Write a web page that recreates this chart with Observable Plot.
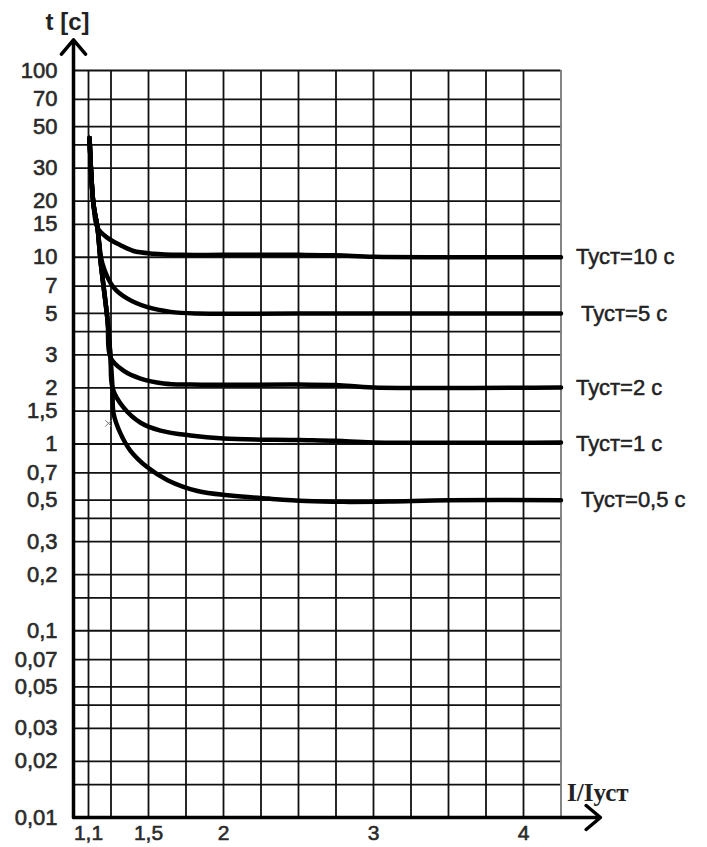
<!DOCTYPE html>
<html>
<head>
<meta charset="utf-8">
<script src="https://cdn.jsdelivr.net/npm/d3@7"></script>
<script src="https://cdn.jsdelivr.net/npm/@observablehq/plot@0.6"></script>
<style>
  html, body { margin: 0; padding: 0; background: #fff; }
  #chart svg { display: block; }
</style>
</head>
<body>
<div id="chart"></div>
<script>
// Grid and tick values
const xGrid = [1.1, 1.25, 1.5, 1.75, 2, 2.25, 2.5, 2.75, 3, 3.25, 3.5, 3.75, 4];
const xGridLast = [4.25];
const yGrid = [100, 70, 50, 40, 30, 20, 15, 10, 7, 5, 4, 3, 2, 1.5, 1, 0.7, 0.5, 0.4, 0.3, 0.2, 0.15,
               0.1, 0.07, 0.05, 0.04, 0.03, 0.02, 0.015];
const yTicks = [100, 70, 50, 30, 20, 15, 10, 7, 5, 3, 2, 1.5, 1, 0.7, 0.5, 0.3, 0.2,
                0.1, 0.07, 0.05, 0.03, 0.02, 0.01];
const xTicks = [1.1, 1.5, 2, 3, 4];

// Curve labels
const curveNames = ["Туст=10 с", "Туст=5 с", "Туст=2 с", "Туст=1 с", "Туст=0,5 с"];

// Curves
const x10 = [1.107, 1.133, 1.16, 1.227, 1.313, 1.4, 1.533, 1.713, 2.0, 2.5, 2.75, 3, 3.5, 4.25];
const y10 = [43.5, 19.3, 14.4, 12.7, 11.6, 10.8, 10.45, 10.3, 10.3, 10.3, 10.25, 10.05, 10, 10];

const x5 = [1.107, 1.133, 1.16, 1.193, 1.267, 1.36, 1.493, 1.647, 1.827, 2.5, 4.25];
const y5 = [43.5, 19.3, 14.4, 9.25, 6.9, 6.0, 5.4, 5.1, 5.0, 5.0, 5.0];

const x2 = [1.107, 1.133, 1.16, 1.18, 1.227, 1.247, 1.333, 1.447, 1.6, 1.78, 2.5, 2.75, 3, 4.25];
const y2 = [43.5, 19.3, 14.4, 9.6, 4.6, 2.9, 2.47, 2.24, 2.11, 2.08, 2.08, 2.07, 2.01, 2.01];

const x1 = [1.107, 1.133, 1.16, 1.18, 1.227, 1.247, 1.26, 1.333, 1.447, 1.58, 1.78, 2.0, 2.5, 2.75, 3, 4.25];
const y1 = [43.5, 19.3, 14.4, 9.6, 4.6, 2.9, 2.0, 1.57, 1.3, 1.18, 1.11, 1.07, 1.05, 1.04, 1.02, 1.02];

const x05 = [1.107, 1.133, 1.16, 1.18, 1.227, 1.247, 1.26, 1.267, 1.313, 1.38, 1.493, 1.627, 1.827, 2.047, 2.3, 2.55, 2.8, 3.1, 3.5, 4.25];
const y05 = [43.5, 19.3, 14.4, 9.6, 4.6, 2.9, 2.0, 1.46, 1.14, 0.92, 0.75, 0.64, 0.56, 0.53, 0.51, 0.495, 0.49, 0.492, 0.5, 0.5];

const curveX = [x10, x5, x2, x1, x05];
const curveY = [y10, y5, y2, y1, y05];
const labelY = [10, 5, 2, 1, 0.5];
const labelDx = [15, 20, 15, 15, 20];

const rows = curveNames.flatMap((name, i) => curveX[i].map((x, j) => ({name, x, y: curveY[i][j]})));

const fmt = v => String(v).replace(".", ",");

const X0 = 1, X1 = 4.25, XA = 4.513, Y0 = 0.01, Y1 = 100, YA = 146;

const labelMarks = curveNames.map((name, i) =>
  Plot.text([name], {x: X1, y: labelY[i], text: d => d, textAnchor: "start", dx: labelDx[i],
    fontSize: 22, fill: "#222", stroke: "#222", strokeWidth: 0.5}));

const chart = Plot.plot({
  width: 707,
  height: 847,
  marginLeft: 73,
  marginRight: 146.5,
  marginTop: 70,
  marginBottom: 30,
  x: {domain: [X0, X1], axis: null},
  y: {type: "log", domain: [Y0, Y1], axis: null},
  style: {fontFamily: "'Liberation Sans', Arial, sans-serif", background: "#fff", color: "#111"},
  marks: [
    Plot.ruleY(yGrid, {y: d => d, x1: X0, x2: X1, stroke: "#111", strokeWidth: 1.8}),
    Plot.ruleX(xGrid, {x: d => d, y1: Y0, y2: Y1, stroke: "#111", strokeWidth: 1.8}),
    Plot.ruleX(xGridLast, {x: d => d, y1: Y0, y2: Y1, stroke: "#777", strokeWidth: 1.8}),
    Plot.line(rows, {x: "x", y: "y", z: "name", stroke: "#000", strokeWidth: 4.5, curve: "catmull-rom"}),
    Plot.dot([{x: 1.233, y: 1.29}], {x: "x", y: "y", symbol: "times", r: 3, stroke: "#777", strokeWidth: 1}),
    Plot.arrow([{x1: X0, y1: Y0, x2: XA, y2: Y0}], {x1: "x1", y1: "y1", x2: "x2", y2: "y2", stroke: "#000", strokeWidth: 3.5, headLength: 8, headAngle: 80}),
    Plot.arrow([{x1: X0, y1: Y0, x2: X0, y2: YA}], {x1: "x1", y1: "y1", x2: "x2", y2: "y2", stroke: "#000", strokeWidth: 3.5, headLength: 8, headAngle: 80}),
    Plot.text(yTicks, {x: X0, y: d => d, text: d => fmt(d), textAnchor: "end", dx: -16, fontSize: 22, fill: "#2a2a2a", stroke: "#2a2a2a", strokeWidth: 0.6}),
    Plot.text(xTicks, {x: d => d, y: Y0, text: d => fmt(d), textAnchor: "middle", dy: 16, fontSize: 21, fill: "#2a2a2a", stroke: "#2a2a2a", strokeWidth: 0.6}),
    ...labelMarks,
    Plot.text(["t [c]"], {x: X0, y: YA, text: d => d, dx: -6, dy: -17, fontSize: 24, fontWeight: "bold", fill: "#222", textAnchor: "middle"}),
    Plot.text(["I/Iуст"], {x: X1, y: Y0, text: d => d, dx: 6, dy: -25, fontSize: 25, fontWeight: "bold", fill: "#222", textAnchor: "start", fontFamily: "'Liberation Serif', 'Times New Roman', serif"})
  ]
});
document.getElementById("chart").appendChild(chart);
</script>
</body>
</html>
